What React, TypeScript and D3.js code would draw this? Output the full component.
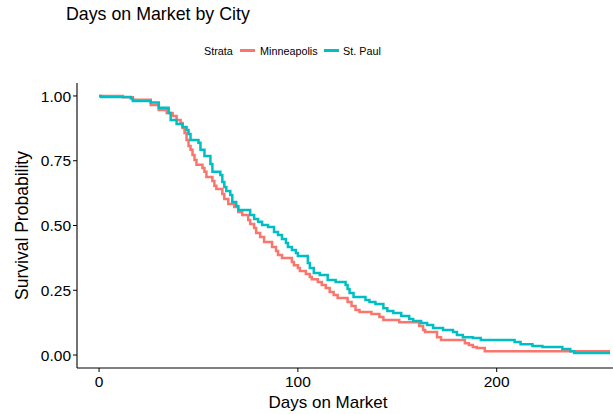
import React from "react";
import * as d3 from "d3";

const title = "Days on Market by City";
const seriesNames = ["Minneapolis", "St. Paul"];
const seriesColors = ["#F8766D", "#00BFC4"];

const mplsTimes = [0, 12, 17, 26, 30, 34, 37, 39, 41, 42, 43, 44, 45, 46, 47, 48, 49, 52, 53, 54, 57, 58, 59, 62, 63, 65, 68, 70, 72, 75, 76, 78, 79, 81, 83, 87, 89, 90, 92, 97, 98, 100, 101, 104, 106, 107, 110, 112, 114, 116, 118, 120, 125, 127, 129, 131, 137, 141, 143, 151, 161, 163, 164, 170, 172, 184, 186, 188, 190, 194, 257];
const mplsSurv = [1.0, 0.995, 0.985, 0.965, 0.946, 0.934, 0.923, 0.907, 0.896, 0.876, 0.857, 0.830, 0.807, 0.792, 0.772, 0.753, 0.734, 0.722, 0.707, 0.687, 0.672, 0.653, 0.641, 0.622, 0.602, 0.583, 0.571, 0.552, 0.541, 0.521, 0.506, 0.490, 0.471, 0.456, 0.436, 0.417, 0.402, 0.386, 0.375, 0.359, 0.347, 0.336, 0.324, 0.313, 0.301, 0.293, 0.282, 0.270, 0.259, 0.243, 0.232, 0.220, 0.205, 0.189, 0.174, 0.166, 0.158, 0.147, 0.135, 0.127, 0.112, 0.097, 0.089, 0.069, 0.058, 0.046, 0.039, 0.031, 0.027, 0.015, 0.015];

const stpTimes = [0, 1, 16, 17, 26, 30, 35, 36, 39, 42, 44, 45, 46, 50, 51, 53, 56, 57, 61, 62, 63, 64, 66, 67, 69, 70, 76, 78, 80, 82, 85, 88, 90, 92, 94, 95, 97, 99, 100, 105, 106, 108, 111, 115, 119, 124, 125, 126, 128, 134, 136, 139, 143, 145, 148, 152, 156, 158, 162, 165, 168, 173, 178, 180, 183, 188, 192, 209, 212, 218, 223, 233, 237, 239, 257];
const stpSurv = [1.0, 0.996, 0.990, 0.981, 0.975, 0.954, 0.934, 0.907, 0.892, 0.880, 0.869, 0.853, 0.830, 0.819, 0.792, 0.768, 0.737, 0.707, 0.695, 0.668, 0.649, 0.633, 0.618, 0.591, 0.575, 0.560, 0.541, 0.525, 0.514, 0.502, 0.494, 0.475, 0.463, 0.448, 0.432, 0.417, 0.405, 0.394, 0.382, 0.355, 0.336, 0.317, 0.309, 0.290, 0.282, 0.270, 0.255, 0.239, 0.224, 0.212, 0.205, 0.197, 0.181, 0.170, 0.162, 0.151, 0.139, 0.131, 0.124, 0.116, 0.104, 0.097, 0.089, 0.077, 0.069, 0.066, 0.058, 0.050, 0.042, 0.035, 0.031, 0.023, 0.015, 0.008, 0.008];

const xTicks = [0, 100, 200];
const yTicks = [0, 0.25, 0.5, 0.75, 1.0];
const xLabel = "Days on Market";
const yLabel = "Survival Probability";
const legendTitle = "Strata";

export default function App() {
  const W = 613, H = 414;
  const x = d3.scaleLinear().domain([-11.1, 258.5]).range([77, 613]);
  const y = d3.scaleLinear().domain([-0.05, 1.05]).range([368, 83]);
  const line = d3
    .line<[number, number]>()
    .x((d) => x(d[0]))
    .y((d) => y(d[1]))
    .curve(d3.curveStepAfter);
  const series = [
    mplsTimes.map((t, i) => [t, mplsSurv[i]] as [number, number]),
    stpTimes.map((t, i) => [t, stpSurv[i]] as [number, number]),
  ];
  const font = "'Liberation Sans', Arial, Helvetica, sans-serif";
  return (
    <svg width={W} height={H} style={{ position: "absolute", left: 0, top: 0, background: "#fff" }} fontFamily={font}>
      <text x={66} y={20} fontSize={17.8} fill="#000">{title}</text>
      {/* legend */}
      <text x={204} y={55} fontSize={10.8} fill="#000">{legendTitle}</text>
      <line x1={240} x2={255} y1={50.5} y2={50.5} stroke={seriesColors[0]} strokeWidth={3} />
      <text x={260} y={55} fontSize={10.8} fill="#000">{seriesNames[0]}</text>
      <line x1={324} x2={339} y1={50.5} y2={50.5} stroke={seriesColors[1]} strokeWidth={3} />
      <text x={343} y={55} fontSize={10.8} fill="#000">{seriesNames[1]}</text>
      {/* curves */}
      {series.map((s, i) => (
        <path key={i} d={line(s) || ""} fill="none" stroke={seriesColors[i]} strokeWidth={2.5} />
      ))}
      {/* axes */}
      <line x1={77} x2={613} y1={368} y2={368} stroke="#000" strokeWidth={1.1} />
      <line x1={77} x2={77} y1={83} y2={368} stroke="#000" strokeWidth={1.1} />
      {xTicks.map((t) => (
        <g key={t}>
          <line x1={x(t)} x2={x(t)} y1={368} y2={372} stroke="#000" strokeWidth={1} />
          <text x={x(t)} y={386.5} fontSize={15.5} textAnchor="middle" fill="#000">{t}</text>
        </g>
      ))}
      {yTicks.map((t) => (
        <g key={t}>
          <line x1={73} x2={77} y1={y(t)} y2={y(t)} stroke="#000" strokeWidth={1} />
          <text x={71} y={y(t)} dy="0.36em" fontSize={15.5} textAnchor="end" fill="#000">{t.toFixed(2)}</text>
        </g>
      ))}
      <text x={328} y={408} fontSize={17} textAnchor="middle" fill="#000">{xLabel}</text>
      <text transform={`translate(28,225.5) rotate(-90)`} fontSize={17.5} textAnchor="middle" fill="#000">{yLabel}</text>
    </svg>
  );
}
